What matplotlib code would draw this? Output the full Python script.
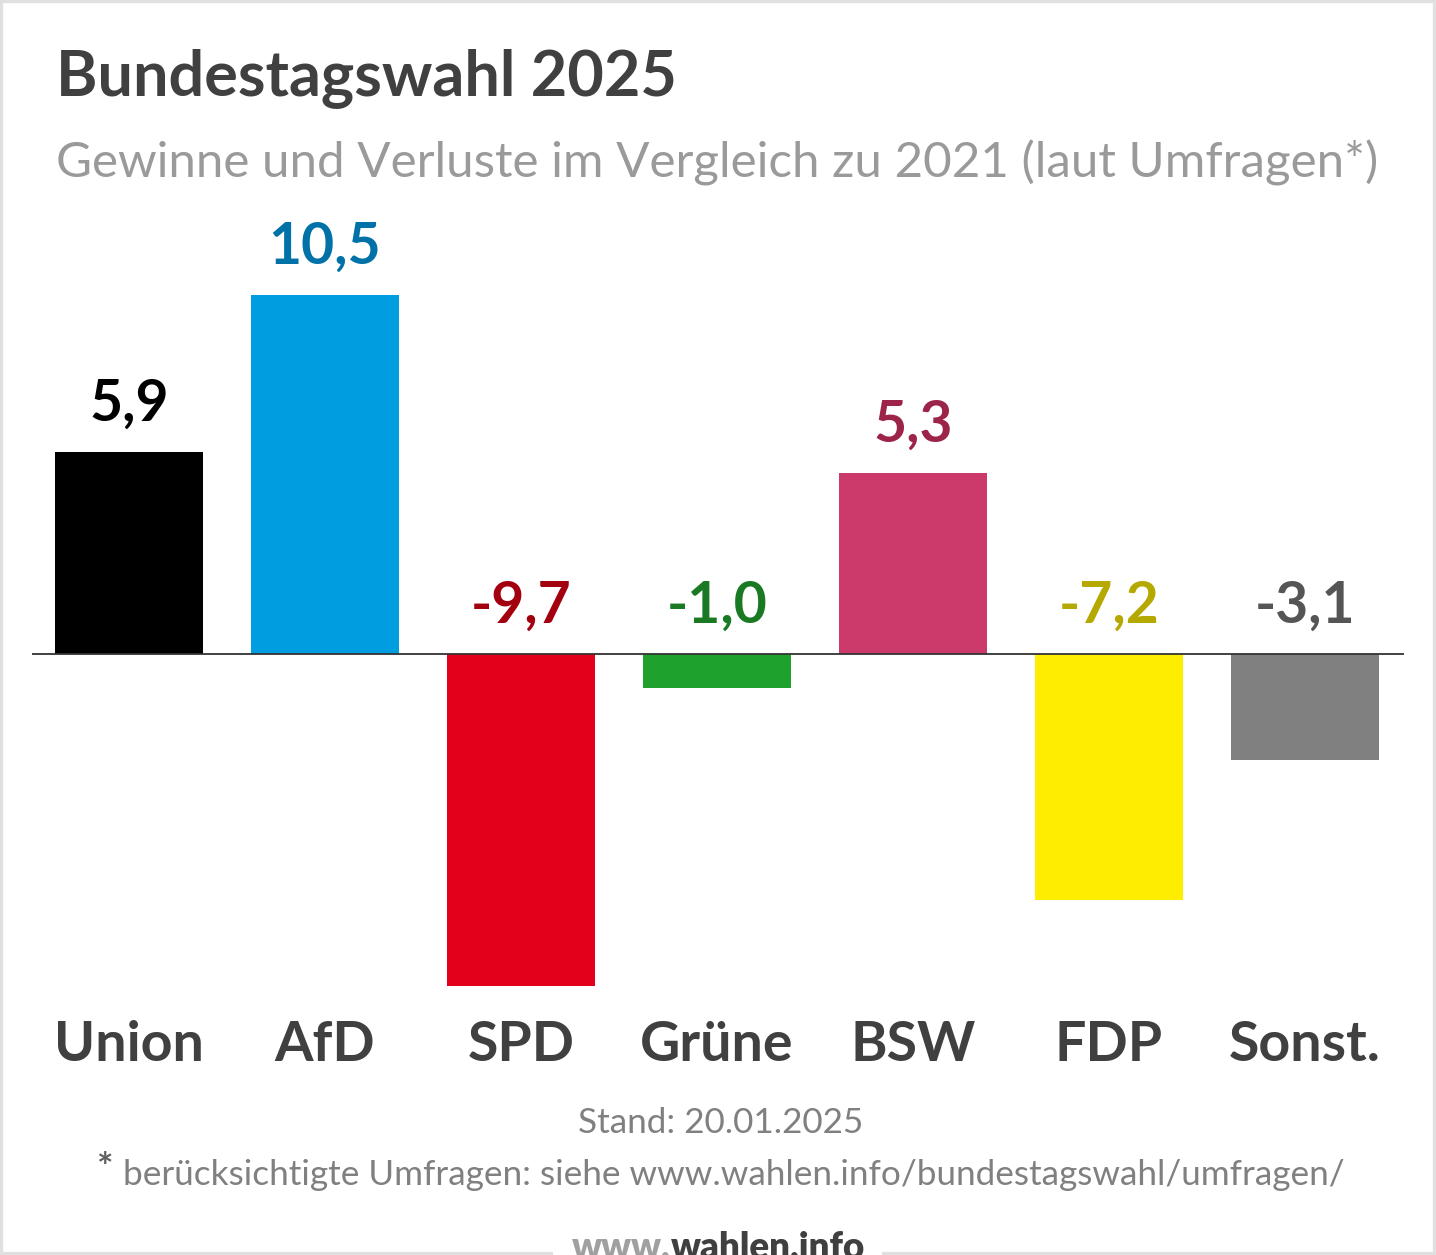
import matplotlib
matplotlib.use("Agg")
import matplotlib.pyplot as plt
from matplotlib.patches import Rectangle

parties = ["Union", "AfD", "SPD", "Grüne", "BSW", "FDP", "Sonst."]
changes = [5.9, 10.5, -9.7, -1.0, 5.3, -7.2, -3.1]
value_labels = ["5,9", "10,5", "-9,7", "-1,0", "5,3", "-7,2", "-3,1"]
bar_colors = ["#000000", "#009ee0", "#e3001b", "#1fa12e", "#cc3a6c", "#ffed00", "#808080"]
label_colors = ["#000000", "#0072a8", "#a3000f", "#1a7a24", "#9c2449", "#b5a800", "#555555"]

title = "Bundestagswahl 2025"
subtitle = "Gewinne und Verluste im Vergleich zu 2021 (laut Umfragen*)"
stand = "Stand: 20.01.2025"
footnote = "berücksichtigte Umfragen: siehe www.wahlen.info/bundestagswahl/umfragen/"

W, H = 1436, 1255
plt.rcParams['font.family'] = ['Lato', 'DejaVu Sans']
fig = plt.figure(figsize=(W / 100, H / 100), dpi=100)
fig.patch.set_facecolor("white")

def fx(px):
    return px / W

def fy(py):
    return 1 - py / H

# axes: x pixels 32..1404, y pixels 200..1000
ax = fig.add_axes([fx(32), fy(1000), fx(1404) - fx(32), fy(200) - fy(1000)])
ax.set_xlim(-0.495, 6.505)
zero_px = 654
ppu = 34.2
ax.set_ylim(-(1000 - zero_px) / ppu, (zero_px - 200) / ppu)
ax.axis("off")

xs = list(range(len(parties)))
ax.bar(xs, changes, width=0.755, color=bar_colors, zorder=2)
ax.axhline(0, color="#333333", lw=1.3, zorder=3)

for x, v, lab, c in zip(xs, changes, value_labels, label_colors):
    y = v if v > 0 else 0
    ax.annotate(lab, (x, y), xytext=(0, 22.5), textcoords="offset points",
                ha="center", va="baseline", fontsize=41, fontweight="bold", color=c)

for x, p in zip(xs, parties):
    xp = 129 + 196 * x
    fig.text(fx(xp), fy(1061), p, ha="center", va="baseline", fontsize=40,
             fontweight="bold", color="#404040")

fig.text(fx(56), fy(95), title, ha="left", va="baseline", fontsize=45.4,
         fontweight="bold", color="#404040")
fig.text(fx(56), fy(177), subtitle, ha="left", va="baseline", fontsize=35.5,
         color="#9a9a9a")

fig.text(fx(721), fy(1133), stand, ha="center", va="baseline", fontsize=25.3,
         color="#808080")
fig.text(fx(123), fy(1185), footnote, ha="left", va="baseline", fontsize=25.3,
         color="#808080")
fig.text(fx(97), fy(1180), "*", ha="left", va="baseline", fontsize=28,
         fontweight="bold", color="#606060")

# frame
fig.patches.append(Rectangle((0, 0), 1, 1, transform=fig.transFigure,
                             fill=False, edgecolor="#e0e0e0", lw=4.5, zorder=0))
# watermark gap
fig.patches.append(Rectangle((fx(553), 0), fx(882) - fx(553), fy(1240), transform=fig.transFigure,
                             facecolor="white", edgecolor="none", zorder=1))
fig.text(fx(671), fy(1259), "www.", ha="right", va="baseline", fontsize=26.5,
         fontweight="heavy", color="#a0a0a0")
fig.text(fx(671), fy(1259), "wahlen.info", ha="left", va="baseline", fontsize=26.5,
         fontweight="heavy", color="#404040")

fig.savefig("out.png", dpi=100, facecolor="white")
